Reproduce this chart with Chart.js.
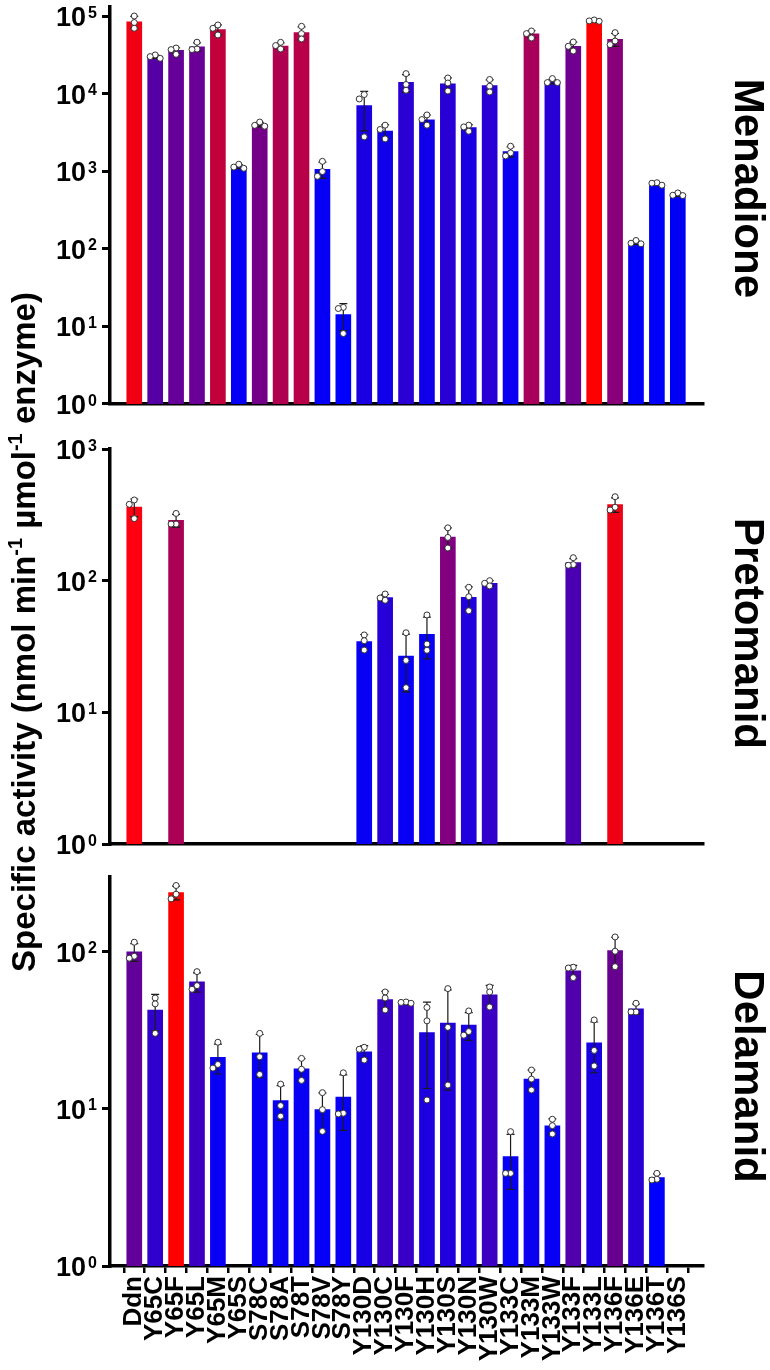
<!DOCTYPE html>
<html><head><meta charset="utf-8">
<script src="https://cdn.jsdelivr.net/npm/chart.js@4.4.1/dist/chart.umd.min.js"></script>
<style>
html,body{margin:0;padding:0;background:#fff;}
#wrap{position:relative;width:770px;height:1370px;}
canvas{position:absolute;left:0;top:0;}
</style></head><body>
<div id="wrap">
<canvas id="c1" width="770" height="1370"></canvas>
<canvas id="c2" width="770" height="1370"></canvas>
<canvas id="c3" width="770" height="1370"></canvas>
</div>
<script>
// ---------------- DATA ----------------
const categories = ['Ddn','Y65C','Y65F','Y65L','Y65M','Y65S','S78C','S78A','S78T','S78V','S78Y',
  'Y130D','Y130C','Y130F','Y130H','Y130S','Y130N','Y130W','Y133C','Y133M','Y133W','Y133F','Y133L',
  'Y136F','Y136E','Y136T','Y136S'];

const menadioneMean = [84000,30000,36000,40000,67000,1150,4000,41000,61000,1060,14.2,7000,3300,14000,4600,13400,3650,12650,1790,58800,14300,40700,87000,50000,120,685,500];
const menadioneSD   = [15000,1500,3000,5000,9800,70,270,4000,11600,250,5.4,3700,660,3600,700,2550,330,2350,270,6000,1000,5500,2000,9500,6,27,25];
const menadioneReps = [
  [100000,82300,69500],[28500,31500,30000],[38700,36900,32100],[46000,37000,37500],[76600,69500,57000],
  [1230,1130,1090],[3800,4300,3900],[45800,37600,41600],[73700,59300,50600],[1340,860,990],[17.6,17.0,8.1],
  [9730,8530,2770],[3920,3450,2610],[18100,13100,11050],[5310,4630,3920],[15900,13700,10800],[3920,3275,3720],
  [15200,12450,10500],[2100,1575,1720],[64100,59300,52100],[13870,15630,13870],[46300,35400,40700],
  [85500,89000,86500],[61100,42800,47600],[118,128,116],[660,710,700],[485,525,490]];

const pretomanidMean = [362,null,287,null,null,null,null,null,null,null,null,34.5,74.5,26.8,39.2,214,74.6,95.6,null,null,null,137,null,378,null,null,null];
const pretomanidSD   = [55,null,32,null,null,null,null,null,null,null,null,4.5,4,12.5,13.7,38,15,4.4,null,null,null,10,null,48,null,null,null];
const pretomanidReps = [
  [410,380,296],null,[324,269,269],null,null,null,null,null,null,null,null,
  [38.7,35,29.7],[79.2,71,73.9],[40.2,24.8,15.4],[54.9,33,29.6],[252,213,177],[89.1,75.5,59.1],[100,91.2,95.5],
  null,null,null,[149.5,130.9,132.4],null,[434,344,361],null,null,null];

const delamanidMean = [100,42.6,238.6,64.5,21.3,null,22.8,11.3,18.0,9.9,11.9,23.1,49.7,47.6,30.7,35.2,34.2,53.3,4.98,15.5,7.8,75.8,26.4,102,43.4,3.66,null];
const delamanidSD   = [13,11,24,9,4.6,null,7,2.8,2.9,2.75,4.6,2.2,6.5,0.5,17.2,22,6.9,7.9,1.9,2.2,0.84,6.3,9.4,22,3.2,0.2,null];
const delamanidReps = [
  [115.3,91.2,93.9],[50.9,46.7,30.3],[264.8,217.8,233.2],[74.9,57.8,61],[26.6,18.2,19.2],null,
  [30.3,21.5,16.6],[14.4,10.5,9.0],[21.0,17.9,15.2],[12.7,9.9,7.2],[17.0,9.3,9.4],
  [24.7,24.0,20.5],[55.6,50.9,42.7],[47.1,48.0,47.7],[44.3,36.4,11.4],[58.4,33.1,14.2],[42.1,29.5,31.1],
  [59.8,55.6,44.6],[7.17,3.89,3.89],[17.7,15.5,13.2],[8.6,7.83,6.93],[79.9,79.0,68.6],[36.9,23.6,18.8],
  [124.6,101,80.6],[47.1,41.5,41.5],[3.89,3.53,3.57],null];

const menadioneTicks  = [1,10,100,1000,10000,100000];
const pretomanidTicks = [1,10,100,1000];
const delamanidTicks  = [1,10,100];

// ---------------- STYLES ----------------
const menadioneColors = ['#f00012','#5500a5','#650098','#6a0095','#c2003c','#0500f5','#740088','#b00050','#b80048','#0500f5','#0000ff',
  '#1a00e0','#1000ea','#2a00d4','#1000ea','#2800d6','#1800e3','#2800d6','#0a00f2','#a8005a','#2800d6','#700090','#ff0000',
  '#88007a','#0000fa','#0000fa','#0000f5'];
const pretomanidColors = ['#ff0010','#000','#aa0055','#000','#000','#000','#000','#000','#000','#000','#000',
  '#0800f5','#2600d8','#0800f5','#0800f5','#820080','#2000dc','#3000cc','#000','#000','#000','#4a00b2','#000',
  '#f00014','#000','#000','#000'];
const delamanidColors = ['#62009a','#3000cc','#ff0000','#3c00c2','#0800f5','#000','#0800f5','#0800f5','#0800f5','#0500f8','#0800f5',
  '#1800e5','#3800c6','#3800c6','#1c00e0','#2000dc','#1a00e3','#3c00c2','#0800f5','#0c00f0','#0800f5','#5000ac','#1800e3',
  '#68008f','#2800d5','#0000ff','#000'];

const FONT = '"Liberation Sans", Arial, Helvetica, sans-serif';

// ---------------- PLUGIN ----------------
const decor = {
  id: 'decor',
  afterDatasetDraw(chart, args, o) {
    if (args.index !== 0) return;
    const xs = chart.scales.x, ys = chart.scales.y, ctx = chart.ctx;
    ctx.save();
    ctx.strokeStyle = '#1a1a1a';
    ctx.lineWidth = 1.2;
    o.means.forEach((m, i) => {
      const sd = o.sds[i];
      if (m == null || sd == null) return;
      const x = xs.getPixelForValue(i);
      const top = ys.getPixelForValue(m + sd);
      const lo = m - sd;
      const hasLo = lo > ys.min;
      const bot = hasLo ? ys.getPixelForValue(lo) : ys.getPixelForValue(ys.min);
      ctx.beginPath();
      ctx.moveTo(x, top); ctx.lineTo(x, bot);
      ctx.moveTo(x - 4, top); ctx.lineTo(x + 4, top);
      if (hasLo) { ctx.moveTo(x - 4, bot); ctx.lineTo(x + 4, bot); }
      ctx.stroke();
    });
    ctx.restore();
  },
  afterDraw(chart, args, o) {
    const ys = chart.scales.y, ctx = chart.ctx, ca = chart.chartArea;
    ctx.save();
    ctx.fillStyle = '#000';
    ctx.textBaseline = 'alphabetic';
    ys.ticks.forEach(t => {
      const v = t.value;
      const e = Math.round(Math.log10(v));
      const y = ys.getPixelForValue(v);
      ctx.font = 'bold 27px ' + FONT;
      ctx.textAlign = 'right';
      ctx.fillText('10', ca.left - 24, y + 10);
      ctx.font = 'bold 16px ' + FONT;
      ctx.textAlign = 'left';
      ctx.fillText(String(e), ca.left - 22, y + 1.5);
    });
    // panel name
    ctx.save();
    ctx.translate(ca.right + 32, (ca.top + ca.bottom) / 2 + o.nameShift);
    ctx.rotate(Math.PI / 2);
    ctx.font = 'bold 42px ' + FONT;
    ctx.textAlign = 'center';
    ctx.fillText(o.name, 0, 0);
    ctx.restore();
    // shared y title
    if (o.yTitle) {
      const segs = [['Specific activity (nmol min', false], ['-1', true], [' \u00B5mol', false], ['-1', true], [' enzyme)', false]];
      const big = 'bold 33px ' + FONT, small = 'bold 20px ' + FONT;
      let total = 0;
      segs.forEach(s => { ctx.font = s[1] ? small : big; total += ctx.measureText(s[0]).width; });
      ctx.save();
      ctx.translate(35, 632);
      ctx.rotate(-Math.PI / 2);
      ctx.textAlign = 'left';
      let x = -total / 2;
      segs.forEach(s => {
        ctx.font = s[1] ? small : big;
        ctx.fillText(s[0], x, s[1] ? -13 : 0);
        x += ctx.measureText(s[0]).width;
      });
      ctx.restore();
    }
    ctx.restore();
  }
};

function buildChart(id, means, sds, reps, colors, ticks, yMax, top, bottom, showX, name, nameShift, yTitle) {
  const barData = [], barColors = [];
  means.forEach((m, i) => { if (m != null) { barData.push({x: i, y: m}); barColors.push(colors[i]); } });
  const pts = [];
  reps.forEach((arr, i) => { if (arr) arr.forEach(v => pts.push({x: i, y: v})); });
  const xH = showX ? 100 : 0;
  const chart = new Chart(document.getElementById(id), {
    data: {
      datasets: [
        {type: 'bar', data: barData, backgroundColor: barColors, borderWidth: 0, barThickness: 15, order: 2},
        {type: 'scatter', data: pts, pointRadius: 3, pointBackgroundColor: '#ffffff', pointBorderColor: '#333333',
         pointBorderWidth: 1, showLine: false, order: 1}
      ]
    },
    options: {
      responsive: false, animation: false, devicePixelRatio: 1, events: [],
      layout: {padding: {left: 90, right: 67, top: top, bottom: 1370 - bottom - xH}},
      plugins: {legend: {display: false}, tooltip: {enabled: false}, title: {display: false},
        decor: {means, sds, name, nameShift, yTitle}},
      scales: {
        x: {
          type: 'linear', min: -0.636, max: 26.68, bounds: 'data',
          afterBuildTicks: s => { s.ticks = categories.map((c, i) => ({value: i})); },
          afterFit: s => { s.height = xH; },
          ticks: {display: showX, autoSkip: false, minRotation: 90, maxRotation: 90, padding: 3,
            color: '#000', font: {family: FONT, size: 26, weight: 'bold'},
            callback: v => categories[v] !== undefined ? categories[v] : ''},
          grid: {display: showX, drawOnChartArea: false, drawTicks: true, tickLength: 7, lineWidth: 2.5, color: '#000'},
          border: {display: true, width: 3.5, color: '#000'}
        },
        y: {
          type: 'logarithmic', min: 1, max: yMax,
          afterBuildTicks: s => { s.ticks = ticks.map(v => ({value: v})); },
          afterFit: s => { s.width = 20; },
          ticks: {display: false},
          grid: {display: true, drawOnChartArea: false, drawTicks: true, tickLength: 8, lineWidth: 3, color: '#000'},
          border: {display: true, width: 3.5, color: '#000'}
        }
      }
    },
    plugins: [decor]
  });
  // beeswarm-style spreading of overlapping replicate points
  const xs = chart.scales.x, ys = chart.scales.y;
  const unit = xs.getPixelForValue(1) - xs.getPixelForValue(0);
  const spread = [];
  reps.forEach((arr, i) => {
    if (!arr) return;
    const placed = [];
    arr.slice().sort((a, b) => b - a).forEach(v => {
      const py = ys.getPixelForValue(v);
      const offs = [0, -5, 5, -10, 10];
      let chosen = offs.find(off => placed.every(p => Math.hypot(p.dx - off, p.py - py) >= 4.8));
      if (chosen === undefined) chosen = 0;
      placed.push({dx: chosen, py});
      spread.push({x: i + chosen / unit, y: v});
    });
  });
  chart.data.datasets[1].data = spread;
  chart.update('none');
  return chart;
}

buildChart('c1', menadioneMean, menadioneSD, menadioneReps, menadioneColors, menadioneTicks, Math.pow(10, 5.12), 6.7, 404, false, 'Menadione', -17, false);
buildChart('c2', pretomanidMean, pretomanidSD, pretomanidReps, pretomanidColors, pretomanidTicks, 1000, 449, 844, false, 'Pretomanid', -13, true);
buildChart('c3', delamanidMean, delamanidSD, delamanidReps, delamanidColors, delamanidTicks, 300, 877, 1266, true, 'Delamanid', 5, false);
</script>
</body></html>
